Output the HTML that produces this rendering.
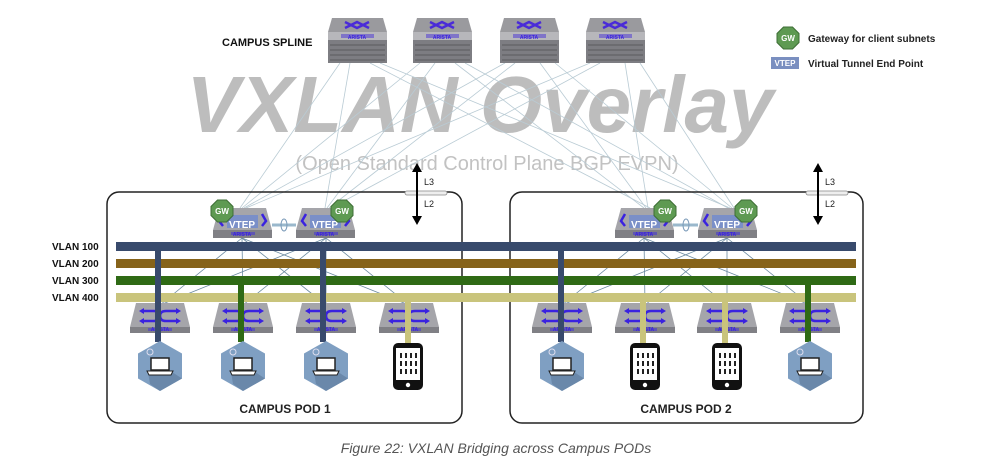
<!DOCTYPE html>
<html><head><meta charset="utf-8"><style>
html,body{margin:0;padding:0;background:#fff;}
svg{display:block;font-family:"Liberation Sans",sans-serif;}
</style></head><body>
<svg width="991" height="467" viewBox="0 0 991 467" xmlns="http://www.w3.org/2000/svg">
<defs>
<g id="spine">
 <path d="M4,0 H55 L59,14 H0 Z" fill="#9a9a9e"/>
 <rect x="0" y="14" width="59" height="31" fill="#7d7d82"/>
 <rect x="0" y="14" width="59" height="8" fill="#b7b7bb"/>
 <g stroke="#5a5a5e" stroke-width="1"><line x1="2" y1="27" x2="57" y2="27"/><line x1="2" y1="32" x2="57" y2="32"/><line x1="2" y1="37" x2="57" y2="37"/><line x1="2" y1="42" x2="57" y2="42"/></g>
 <path d="M17,4 L29,10 L41,4 M17,10 L29,4 L41,10" stroke="#4a2bd8" stroke-width="2.5" fill="none"/>
 <rect x="13" y="16" width="33" height="4" fill="#5a48d0" opacity="0.6"/>
</g>
<g id="acc">
 <path d="M6,0 H54 L60,24 H0 Z" fill="#a5a5aa"/>
 <rect x="0" y="24" width="60" height="6" fill="#808085"/>
 <path d="M14,8 H24 Q30,8 30,13 Q30,18 36,18 H46 M46,8 H36 Q30,8 30,13 Q30,18 24,18 H14" stroke="#3a22e0" stroke-width="2.6" fill="none"/>
 <path d="M14,5 L9,8 L14,11 Z M46,5 L51,8 L46,11 Z M14,15 L9,18 L14,21 Z M46,15 L51,18 L46,21 Z" fill="#3a22e0"/>
 <rect x="18" y="25" width="24" height="3" fill="#4a3ad0" opacity="0.6"/>
</g>
<g id="vtep">
 <path d="M6,0 H53 L59,22 H0 Z" fill="#a5a5aa"/>
 <rect x="0" y="22" width="59" height="8" fill="#808085"/>
 <rect x="14" y="7" width="31" height="13" fill="#7a8fc8"/>
 <path d="M10,6 L6,13 L10,18 M49,6 L53,13 L49,18" stroke="#3a22e0" stroke-width="2.5" fill="none"/>
 <rect x="18" y="24" width="24" height="3" fill="#4a3ad0" opacity="0.6"/>
</g>
<g id="hex">
 <polygon points="0,-25 22,-12.5 22,12.5 0,25 -22,12.5 -22,-12.5" fill="#7f9fc2"/>
 <polygon points="-12,6 12,6 22,12.5 0,25 -10,18" fill="#6a88aa"/>
 <rect x="-9" y="-8" width="18" height="12" fill="#fff" stroke="#222" stroke-width="1.5"/>
 <path d="M-13,5 H13 L11,9 H-11 Z" fill="#fff" stroke="#222" stroke-width="1"/>
 <circle cx="-10" cy="-14" r="3" fill="none" stroke="#dde" stroke-width="1"/>
</g>
<g id="phone">
 <rect x="0" y="0" width="30" height="47" rx="5" fill="#111"/>
 <rect x="3" y="5" width="24" height="32" fill="#fff"/>
 <circle cx="15" cy="42" r="2.2" fill="#fff"/>
 <g fill="#222"><rect x="7" y="10" width="2" height="5"/><rect x="12" y="10" width="2" height="5"/><rect x="17" y="10" width="2" height="5"/><rect x="22" y="10" width="2" height="5"/>
 <rect x="7" y="18" width="2" height="5"/><rect x="12" y="18" width="2" height="5"/><rect x="17" y="18" width="2" height="5"/><rect x="22" y="18" width="2" height="5"/>
 <rect x="7" y="26" width="2" height="5"/><rect x="12" y="26" width="2" height="5"/><rect x="17" y="26" width="2" height="5"/><rect x="22" y="26" width="2" height="5"/></g>
</g>
<g id="gw">
 <polygon points="-4.5,-11 4.5,-11 11,-4.5 11,4.5 4.5,11 -4.5,11 -11,4.5 -11,-4.5" fill="#5e9a52" stroke="#3d6e35" stroke-width="1"/>
</g>
</defs>

<!-- big overlay text -->
<text x="480" y="132" text-anchor="middle" font-size="80" font-weight="bold" font-style="italic" fill="#bdbdbd">VXLAN Overlay</text>
<text x="487" y="170" text-anchor="middle" font-size="20" fill="#c2c2c2">(Open Standard Control Plane BGP EVPN)</text>

<!-- mesh lines spine to vteps -->
<g stroke="#b9cbd4" stroke-width="0.8" fill="none">
 <line x1="340" y1="63" x2="240" y2="208"/><line x1="350" y1="63" x2="325" y2="208"/><line x1="370" y1="63" x2="650" y2="208"/><line x1="380" y1="63" x2="730" y2="208"/>
 <line x1="420" y1="63" x2="242" y2="208"/><line x1="435" y1="63" x2="327" y2="208"/><line x1="455" y1="63" x2="644" y2="208"/><line x1="465" y1="63" x2="728" y2="208"/>
 <line x1="505" y1="63" x2="244" y2="208"/><line x1="515" y1="63" x2="329" y2="208"/><line x1="540" y1="63" x2="646" y2="208"/><line x1="555" y1="63" x2="732" y2="208"/>
 <line x1="590" y1="63" x2="246" y2="208"/><line x1="600" y1="63" x2="331" y2="208"/><line x1="625" y1="63" x2="648" y2="208"/><line x1="640" y1="63" x2="734" y2="208"/>
</g>

<!-- spines -->
<use href="#spine" x="328" y="18"/><use href="#spine" x="413" y="18"/><use href="#spine" x="500" y="18"/><use href="#spine" x="586" y="18"/>
<g font-size="5" font-weight="bold" fill="#3a22e0" text-anchor="middle">
<text x="357" y="39">ARISTA</text><text x="442" y="39">ARISTA</text><text x="529" y="39">ARISTA</text><text x="615" y="39">ARISTA</text></g>
<text x="222" y="46" font-size="11" font-weight="bold" fill="#111">CAMPUS SPLINE</text>

<!-- legend -->
<use href="#gw" x="788" y="38"/><text x="788" y="41" text-anchor="middle" font-size="8" font-weight="bold" fill="#fff">GW</text>
<text x="808" y="42" font-size="10" font-weight="bold" fill="#222">Gateway for client subnets</text>
<rect x="771" y="57" width="28" height="12" fill="#7a8fc0"/><text x="785" y="66" text-anchor="middle" font-size="8" font-weight="bold" fill="#fff">VTEP</text>
<text x="808" y="67" font-size="10" font-weight="bold" fill="#222">Virtual Tunnel End Point</text>

<!-- pod boxes -->
<rect x="107" y="192" width="355" height="231" rx="12" fill="none" stroke="#222" stroke-width="1.5"/>
<rect x="510" y="192" width="353" height="231" rx="12" fill="none" stroke="#222" stroke-width="1.5"/>

<!-- L3/L2 markers -->
<g>
 <rect x="405" y="191" width="42" height="4" rx="2" fill="#eee" stroke="#888" stroke-width="0.8"/>
 <line x1="417" y1="170" x2="417" y2="218" stroke="#000" stroke-width="2"/>
 <polygon points="412,172 417,163 422,172" fill="#000"/><polygon points="412,216 417,225 422,216" fill="#000"/>
 <text x="424" y="185" font-size="9" fill="#222">L3</text><text x="424" y="207" font-size="9" fill="#222">L2</text>
 <rect x="806" y="191" width="42" height="4" rx="2" fill="#eee" stroke="#888" stroke-width="0.8"/>
 <line x1="818" y1="170" x2="818" y2="218" stroke="#000" stroke-width="2"/>
 <polygon points="813,172 818,163 823,172" fill="#000"/><polygon points="813,216 818,225 823,216" fill="#000"/>
 <text x="825" y="185" font-size="9" fill="#222">L3</text><text x="825" y="207" font-size="9" fill="#222">L2</text>
</g>

<!-- vtep to access lines -->
<g stroke="#6b8aa0" stroke-width="0.8">
 <line x1="242" y1="238" x2="160" y2="305"/><line x1="242" y1="238" x2="243" y2="305"/><line x1="242" y1="238" x2="326" y2="305"/><line x1="242" y1="238" x2="409" y2="305"/>
 <line x1="326" y1="238" x2="160" y2="305"/><line x1="326" y1="238" x2="243" y2="305"/><line x1="326" y1="238" x2="326" y2="305"/><line x1="326" y1="238" x2="409" y2="305"/>
 <line x1="644" y1="238" x2="562" y2="305"/><line x1="644" y1="238" x2="645" y2="305"/><line x1="644" y1="238" x2="727" y2="305"/><line x1="644" y1="238" x2="810" y2="305"/>
 <line x1="727" y1="238" x2="562" y2="305"/><line x1="727" y1="238" x2="645" y2="305"/><line x1="727" y1="238" x2="727" y2="305"/><line x1="727" y1="238" x2="810" y2="305"/>
</g>

<!-- MLAG links -->
<line x1="272" y1="225" x2="296" y2="225" stroke="#9ab8cc" stroke-width="3"/>
<ellipse cx="284" cy="225" rx="3" ry="6" fill="none" stroke="#7a9ab8" stroke-width="1"/>
<line x1="673" y1="225" x2="698" y2="225" stroke="#9ab8cc" stroke-width="3"/>
<ellipse cx="686" cy="225" rx="3" ry="6" fill="none" stroke="#7a9ab8" stroke-width="1"/>

<!-- VTEPs -->
<use href="#vtep" x="213" y="208"/><use href="#vtep" x="296" y="208"/><use href="#vtep" x="615" y="208"/><use href="#vtep" x="698" y="208"/>
<g font-size="10" font-weight="bold" fill="#fff" text-anchor="middle">
<text x="242" y="228">VTEP</text><text x="325" y="228">VTEP</text><text x="644" y="228">VTEP</text><text x="727" y="228">VTEP</text></g>
<g font-size="5" font-weight="bold" fill="#3a22e0" text-anchor="middle">
<text x="242" y="236">ARISTA</text><text x="325" y="236">ARISTA</text><text x="644" y="236">ARISTA</text><text x="727" y="236">ARISTA</text></g>
<use href="#gw" x="222" y="211"/><use href="#gw" x="342" y="211"/><use href="#gw" x="665" y="211"/><use href="#gw" x="746" y="211"/>
<g font-size="8" font-weight="bold" fill="#fff" text-anchor="middle">
<text x="222" y="214">GW</text><text x="342" y="214">GW</text><text x="665" y="214">GW</text><text x="746" y="214">GW</text></g>

<!-- VLAN bars -->
<rect x="116" y="242" width="740" height="9" fill="#384a6c"/>
<rect x="116" y="259" width="740" height="9" fill="#86631a"/>
<rect x="116" y="276" width="740" height="9" fill="#2f6a15"/>
<rect x="116" y="293" width="740" height="9" fill="#c9c47c"/>
<g font-size="10" font-weight="bold" fill="#111">
<text x="52" y="250">VLAN 100</text><text x="52" y="267">VLAN 200</text><text x="52" y="284">VLAN 300</text><text x="52" y="301">VLAN 400</text></g>

<!-- access switches -->
<use href="#acc" x="130" y="303"/><use href="#acc" x="213" y="303"/><use href="#acc" x="296" y="303"/><use href="#acc" x="379" y="303"/>
<use href="#acc" x="532" y="303"/><use href="#acc" x="615" y="303"/><use href="#acc" x="697" y="303"/><use href="#acc" x="780" y="303"/>
<g font-size="5" font-weight="bold" fill="#3a22e0" text-anchor="middle">
<text x="160" y="331">ARISTA</text><text x="243" y="331">ARISTA</text><text x="326" y="331">ARISTA</text><text x="409" y="331">ARISTA</text>
<text x="562" y="331">ARISTA</text><text x="645" y="331">ARISTA</text><text x="727" y="331">ARISTA</text><text x="810" y="331">ARISTA</text></g>

<!-- drops -->
<rect x="155" y="246" width="6" height="96" fill="#384a6c"/>
<rect x="238" y="280" width="6" height="62" fill="#2f6a15"/>
<rect x="320" y="246" width="6" height="96" fill="#384a6c"/>
<rect x="405" y="297" width="6" height="46" fill="#c9c47c"/>
<rect x="558" y="246" width="6" height="96" fill="#384a6c"/>
<rect x="640" y="297" width="6" height="46" fill="#c9c47c"/>
<rect x="722" y="297" width="6" height="46" fill="#c9c47c"/>
<rect x="805" y="280" width="6" height="62" fill="#2f6a15"/>

<!-- devices -->
<use href="#hex" x="160" y="366"/><use href="#hex" x="243" y="366"/><use href="#hex" x="326" y="366"/><use href="#phone" x="393" y="343"/>
<use href="#hex" x="562" y="366"/><use href="#phone" x="630" y="343"/><use href="#phone" x="712" y="343"/><use href="#hex" x="810" y="366"/>

<text x="285" y="413" text-anchor="middle" font-size="12" font-weight="bold" fill="#222">CAMPUS POD 1</text>
<text x="686" y="413" text-anchor="middle" font-size="12" font-weight="bold" fill="#222">CAMPUS POD 2</text>

<text x="496" y="453" text-anchor="middle" font-size="14" font-style="italic" fill="#555">Figure 22: VXLAN Bridging across Campus PODs</text>
</svg>
</body></html>
